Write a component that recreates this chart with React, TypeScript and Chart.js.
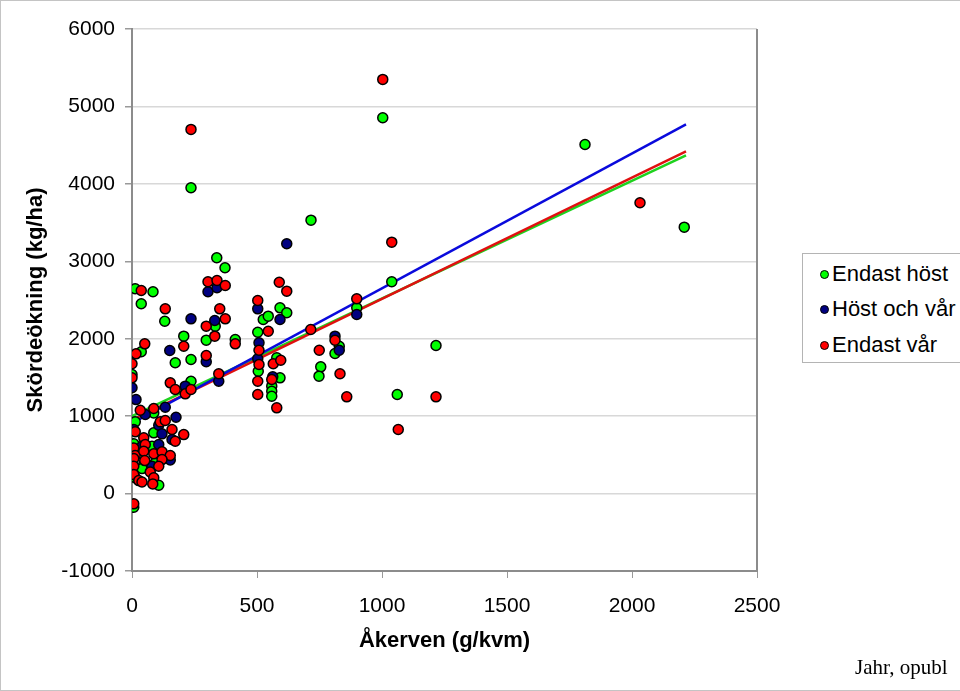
import React, { useEffect, useRef } from "react";
import { Chart, registerables } from "chart.js";

Chart.register(...registerables);

// ---- data ----
const seriesNames = ["Endast höst", "Höst och vår", "Endast vår"];

const endastHost: [number, number][] = [
  [0, 1537], [13, 2645], [84, 2606], [37, 2451], [131, 2226], [37, 1831], [173, 1689],
  [207, 2033], [236, 1731], [236, 1451], [297, 1981], [333, 2162], [339, 3045], [372, 2916],
  [413, 1990], [236, 3950], [525, 2248], [545, 2291], [592, 2399], [619, 2335], [503, 2084],
  [505, 1580], [579, 1753], [592, 1495], [559, 1387], [559, 1322], [559, 1257], [716, 3531],
  [755, 1637], [748, 1516], [812, 1809], [829, 1903], [899, 2399], [1003, 4854], [1039, 2735],
  [1061, 1279], [1216, 1912], [1812, 4509], [2209, 3441],
  [87, 1042], [13, 926], [87, 784], [7, 642], [80, 611], [47, 375], [93, 397], [40, 323],
  [13, 203], [107, 107], [7, -177],
];

const hostOchVar: [number, number][] = [
  [0, 1366], [16, 1214], [133, 1115], [53, 1021], [176, 986], [107, 882], [7, 827], [120, 771],
  [160, 698], [107, 633], [40, 611], [153, 435], [80, 353], [151, 1848], [213, 1387], [236, 2257],
  [297, 1702], [304, 2606], [331, 2235], [340, 2658], [347, 1451], [503, 2386], [503, 1740],
  [508, 1947], [563, 1508], [592, 2248], [619, 3226], [812, 2033], [829, 1851], [899, 2313],
];

const endastVar: [number, number][] = [
  [0, 1676], [0, 1495], [16, 1805], [37, 2623], [51, 1934], [133, 2386], [153, 1430], [173, 1344],
  [207, 1903], [213, 1288], [236, 1344], [236, 4703], [297, 2162], [297, 1783], [304, 2735],
  [331, 2033], [340, 2752], [347, 1547], [351, 2386], [373, 2687], [373, 2257], [413, 1934],
  [503, 2494], [503, 1451], [503, 1279], [508, 1851], [508, 1667], [545, 2097], [559, 1473],
  [565, 1676], [579, 1107], [589, 2730], [595, 1722], [619, 2614], [715, 2119], [749, 1851],
  [812, 1981], [832, 1547], [859, 1249], [899, 2515], [1003, 5349], [1039, 3247], [1065, 827],
  [1216, 1249], [2032, 3756],
  [33, 1076], [87, 1098], [113, 926], [133, 943], [13, 797], [47, 720], [160, 827], [207, 762],
  [173, 676], [53, 633], [7, 590], [87, 513], [120, 539], [153, 491], [13, 491], [47, 547],
  [7, 452], [51, 426], [120, 439], [7, 353], [107, 353], [73, 280], [7, 245], [27, 168],
  [40, 150], [87, 203], [83, 125], [7, -133],
];

// trend line end points (x range and fitted y values)
const trendX = [0, 2216];
const trendEndastHost = [1000, 4367];
const trendHostOchVar = [910, 4767];
const trendEndastVar = [950, 4419];

const xTickValues = [0, 500, 1000, 1500, 2000, 2500];
const yTickValues = [-1000, 0, 1000, 2000, 3000, 4000, 5000, 6000];

// ---- styles ----
const markerColors = ["#00ff00", "#000080", "#ff0000"];
const lineColors = ["#1ed21e", "#0a0adc", "#e01010"];
const FONT = '"Liberation Sans", Arial, sans-serif';

const toPoints = (arr: [number, number][]) => arr.map(([x, y]) => ({ x, y }));
const trendPoints = (ys: number[]) => trendX.map((x, i) => ({ x, y: ys[i] }));

const rightBorder = {
  id: "rightBorder",
  afterDraw(chart: any) {
    const { ctx, chartArea } = chart;
    ctx.save();
    ctx.strokeStyle = "#8c8c8c";
    ctx.lineWidth = 2;
    ctx.beginPath();
    ctx.moveTo(chartArea.right, chartArea.top);
    ctx.lineTo(chartArea.right, chartArea.bottom);
    ctx.stroke();
    ctx.restore();
  },
};

export default function App() {
  const ref = useRef<HTMLCanvasElement>(null);

  useEffect(() => {
    if (!ref.current) return;
    const pointDs = (i: number, data: [number, number][], order: number) => ({
      type: "scatter" as const,
      label: seriesNames[i],
      data: toPoints(data),
      backgroundColor: markerColors[i],
      borderColor: "#000",
      borderWidth: 1.5,
      pointRadius: 5,
      order,
    });
    const lineDs = (i: number, ys: number[], order: number) => ({
      type: "line" as const,
      label: seriesNames[i] + " trend",
      data: trendPoints(ys),
      borderColor: lineColors[i],
      borderWidth: 2.5,
      pointRadius: 0,
      fill: false,
      order,
    });
    const chart = new Chart(ref.current, {
      type: "scatter",
      data: {
        datasets: [
          pointDs(0, endastHost, 3),
          pointDs(1, hostOchVar, 2),
          pointDs(2, endastVar, 1),
          lineDs(1, trendHostOchVar, 4),
          lineDs(2, trendEndastVar, 5),
          lineDs(0, trendEndastHost, 6),
        ] as any,
      },
      options: {
        animation: false,
        responsive: false,
        layout: { padding: { top: 29, right: 203, bottom: 0, left: 0 } },
        plugins: { legend: { display: false }, tooltip: { enabled: false } },
        scales: {
          x: {
            type: "linear",
            min: 0,
            max: 2500,
            afterBuildTicks: (s: any) => {
              s.ticks = xTickValues.map((v) => ({ value: v }));
            },
            afterFit: (s: any) => {
              s.height = 120;
            },
            ticks: {
              font: { family: FONT, size: 21 },
              color: "#000",
              padding: 16,
              maxRotation: 0,
              callback: (v: any) => String(v),
            },
            grid: { drawOnChartArea: false, tickLength: 7, tickColor: "#999" },
            border: { color: "#8c8c8c", width: 2 },
            title: {
              display: true,
              text: "Åkerven (g/kvm)",
              font: { family: FONT, size: 22, weight: "bold" },
              color: "#000",
              padding: { top: 0, bottom: 37 },
            },
          },
          y: {
            type: "linear",
            min: -1000,
            max: 6000,
            afterBuildTicks: (s: any) => {
              s.ticks = yTickValues.map((v) => ({ value: v }));
            },
            afterFit: (s: any) => {
              s.width = 132;
            },
            ticks: {
              font: { family: FONT, size: 21 },
              color: "#000",
              padding: 10,
              callback: (v: any) => String(v),
            },
            grid: { color: "#d8d8d8", tickLength: 7, tickColor: "#999", lineWidth: 1.5 },
            border: { color: "#8c8c8c", width: 2 },
            title: {
              display: true,
              text: "Skördeökning (kg/ha)",
              font: { family: FONT, size: 22, weight: "bold" },
              color: "#000",
              padding: { top: 23, bottom: 0 },
            },
          },
        },
      },
      plugins: [rightBorder],
    });
    return () => chart.destroy();
  }, []);

  const legendRows = [273, 308, 344];

  return (
    <div
      style={{
        position: "absolute",
        left: 0,
        top: 0,
        width: 960,
        height: 691,
        overflow: "hidden",
        background: "#fff",
      }}
    >
      <canvas ref={ref} width={960} height={691} style={{ position: "absolute", left: 0, top: 0 }} />
      <div
        style={{
          position: "absolute",
          left: 0,
          top: 0,
          width: 970,
          height: 689,
          borderTop: "1px solid #c4c4c4",
          borderLeft: "1px solid #c4c4c4",
          borderBottom: "1px solid #c4c4c4",
          pointerEvents: "none",
        }}
      />
      <div
        style={{
          position: "absolute",
          left: 802,
          top: 253,
          width: 175,
          height: 108,
          border: "1px solid #b4b4b4",
          background: "#fff",
          fontFamily: FONT,
          fontSize: 22,
          color: "#000",
        }}
      >
        {seriesNames.map((name, i) => (
          <div
            key={name}
            style={{
              position: "absolute",
              left: 17,
              top: legendRows[i] - 253 - 14,
              height: 28,
              display: "flex",
              alignItems: "center",
              whiteSpace: "nowrap",
            }}
          >
            <span
              style={{
                display: "inline-block",
                width: 7,
                height: 7,
                borderRadius: "50%",
                background: markerColors[i],
                border: "1px solid #000",
                marginRight: 3,
              }}
            />
            <span>{name}</span>
          </div>
        ))}
      </div>
      <div
        style={{
          position: "absolute",
          left: 855,
          top: 655,
          fontFamily: '"Liberation Serif", "Times New Roman", serif',
          fontSize: 21,
          color: "#000",
          whiteSpace: "nowrap",
        }}
      >
        Jahr, opubl
      </div>
    </div>
  );
}
